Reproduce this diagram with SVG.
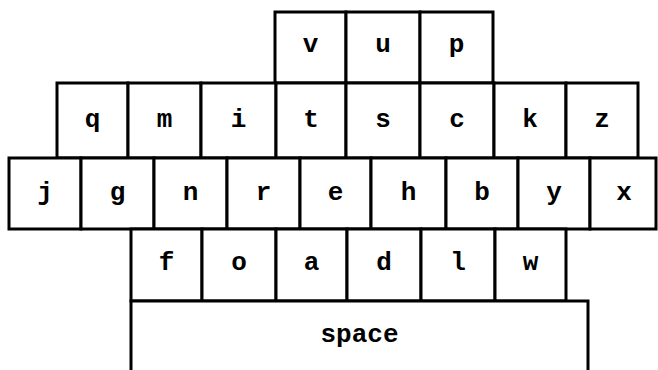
<svg xmlns="http://www.w3.org/2000/svg" width="658" height="370" viewBox="0 0 658 370">
<style>
rect{fill:#fff;stroke:#000;stroke-width:3}
text{font-family:"Liberation Mono","Courier New",monospace;font-weight:bold;font-size:26px;fill:#000;text-anchor:middle}
</style>
<rect x="0" y="0" width="658" height="370" style="stroke:none"/>
<g id="connectors"/>
<g id="key-v"><rect x="275" y="12" width="71" height="71"/><text x="310.5" y="52">v</text></g>
<g id="key-u"><rect x="346" y="12" width="74" height="71"/><text x="383" y="52">u</text></g>
<g id="key-p"><rect x="420" y="12" width="73" height="71"/><text x="456.5" y="52">p</text></g>

<g id="key-q"><rect x="57" y="83" width="71" height="75"/><text x="92.5" y="127">q</text></g>
<g id="key-m"><rect x="128" y="83" width="73" height="75"/><text x="164.5" y="127">m</text></g>
<g id="key-i"><rect x="201" y="83" width="75" height="75"/><text x="238.5" y="127">i</text></g>
<g id="key-t"><rect x="276" y="83" width="70" height="75"/><text x="311" y="127">t</text></g>
<g id="key-s"><rect x="346" y="83" width="74" height="75"/><text x="383" y="127">s</text></g>
<g id="key-c"><rect x="420" y="83" width="74" height="75"/><text x="457" y="127">c</text></g>
<g id="key-k"><rect x="494" y="83" width="72" height="75"/><text x="530" y="127">k</text></g>
<g id="key-z"><rect x="566" y="83" width="72" height="75"/><text x="602" y="127">z</text></g>

<g id="key-j"><rect x="9" y="158" width="72" height="71"/><text x="45" y="200">j</text></g>
<g id="key-g"><rect x="81" y="158" width="73" height="71"/><text x="117.5" y="200">g</text></g>
<g id="key-n"><rect x="154" y="158" width="73" height="71"/><text x="190.5" y="200">n</text></g>
<g id="key-r"><rect x="227" y="158" width="73" height="71"/><text x="263.5" y="200">r</text></g>
<g id="key-e"><rect x="300" y="158" width="71" height="71"/><text x="335.5" y="200">e</text></g>
<g id="key-h"><rect x="371" y="158" width="75" height="71"/><text x="408.5" y="200">h</text></g>
<g id="key-b"><rect x="446" y="158" width="72" height="71"/><text x="482" y="200">b</text></g>
<g id="key-y"><rect x="518" y="158" width="72" height="71"/><text x="554" y="200">y</text></g>
<g id="key-x"><rect x="590" y="158" width="66" height="71"/><text x="624" y="200">x</text></g>

<g id="key-f"><rect x="131" y="229" width="71" height="72"/><text x="166.5" y="270">f</text></g>
<g id="key-o"><rect x="202" y="229" width="74" height="72"/><text x="239" y="270">o</text></g>
<g id="key-a"><rect x="276" y="229" width="71" height="72"/><text x="311.5" y="270">a</text></g>
<g id="key-d"><rect x="347" y="229" width="74" height="72"/><text x="384" y="270">d</text></g>
<g id="key-l"><rect x="421" y="229" width="74" height="72"/><text x="458" y="270">l</text></g>
<g id="key-w"><rect x="495" y="229" width="71" height="72"/><text x="530.5" y="270">w</text></g>

<g id="key-space"><rect x="131" y="301" width="457" height="75"/><text x="359.5" y="342">space</text></g>
</svg>
